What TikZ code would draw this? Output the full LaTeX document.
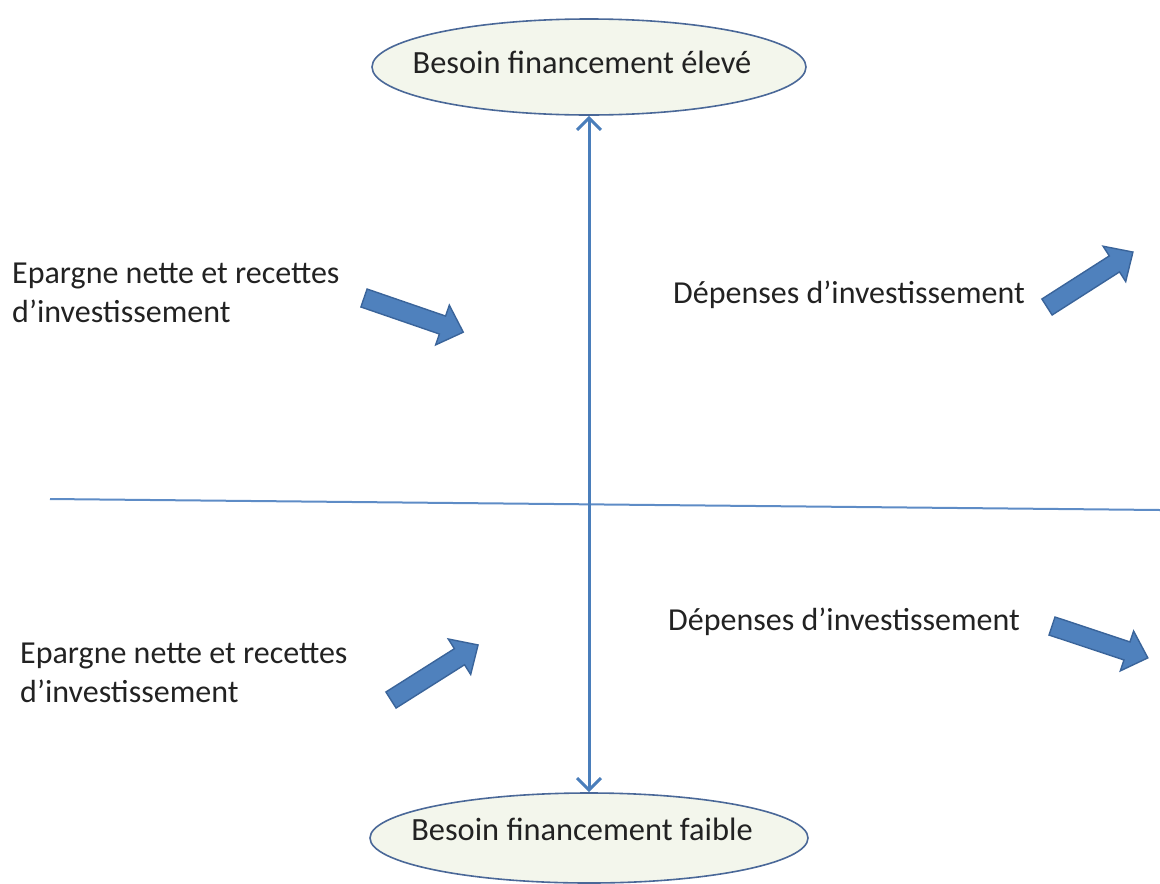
\documentclass[tikz,border=0pt]{standalone}
\usepackage{fontspec}
\setmainfont{Carlito}
\usetikzlibrary{shapes.geometric,arrows.meta}

\definecolor{axisblue}{HTML}{4A7EBB}
\definecolor{lineblue}{HTML}{5E8CC6}
\definecolor{blockfill}{HTML}{4F81BD}
\definecolor{blockedge}{HTML}{3A649A}
\definecolor{ovalfill}{HTML}{F3F6EC}
\definecolor{ovaledge}{HTML}{4A6898}
\definecolor{txt}{HTML}{222222}

\newcommand\ovaltext[2]{\makebox[0pt]{\hspace*{-14pt}\raisebox{#1}[0pt][0pt]{#2}}}

\tikzset{
  oval/.style={ellipse, draw=ovaledge, line width=1.6pt, fill=ovalfill,
    inner sep=0pt, text=txt, font=\fontsize{32.4pt}{38pt}\selectfont},
  label text/.style={anchor=north west, inner sep=0pt, align=left, text=txt,
    font=\fontsize{32pt}{39pt}\selectfont},
  axis/.style={draw=axisblue, line width=3pt,
    {Straight Barb[length=12pt,width=24pt]}-{Straight Barb[length=12pt,width=24pt]}},
  divider/.style={draw=lineblue, line width=2pt},
  blockarrow/.style={fill=blockfill, draw=blockedge, line width=1.4pt, line join=miter},
  pics/barrow/.style={code={
    \path[blockarrow] (0,-9.5) -- (#1-22,-9.5) -- (#1-22,-21) -- (#1,0)
      -- (#1-22,21) -- (#1-22,9.5) -- (0,9.5) -- cycle;
  }}
}

\begin{document}
\begin{tikzpicture}[x=1pt, y=-1pt]
  \useasboundingbox (0,0) rectangle (1160,884);

  % the two poles
  \node[oval, minimum width=434pt, minimum height=96pt] (high) at (589,67)
    {\ovaltext{-6pt}{Besoin financement élevé}};
  \node[oval, minimum width=438pt, minimum height=90pt] (low) at (589,838)
    {\ovaltext{-2pt}{Besoin financement faible}};

  % horizontal divider
  \coordinate (divL) at (50,499);
  \coordinate (divR) at (1160,510);
  \draw[divider] (divL) -- (divR);

  % vertical double-headed axis
  \draw[axis] (high.south) -- (low.north);

  % quadrant labels
  \node[label text] (savTop) at (12,263) {Epargne nette et recettes\\d’investissement};
  \node[label text] (depTop) at (673,281) {Dépenses d’investissement};
  \node[label text] (savBot) at (20,643) {Epargne nette et recettes\\d’investissement};
  \node[label text] (depBot) at (668,608) {Dépenses d’investissement};

  % block arrows
  \pic[shift={(364,298)}, rotate=-19] {barrow=105};
  \pic[shift={(1047,307)}, rotate=32.6] {barrow=102};
  \pic[shift={(391,700)}, rotate=32.3] {barrow=103};
  \pic[shift={(1052,626)}, rotate=-18.4] {barrow=101};
\end{tikzpicture}
\end{document}
